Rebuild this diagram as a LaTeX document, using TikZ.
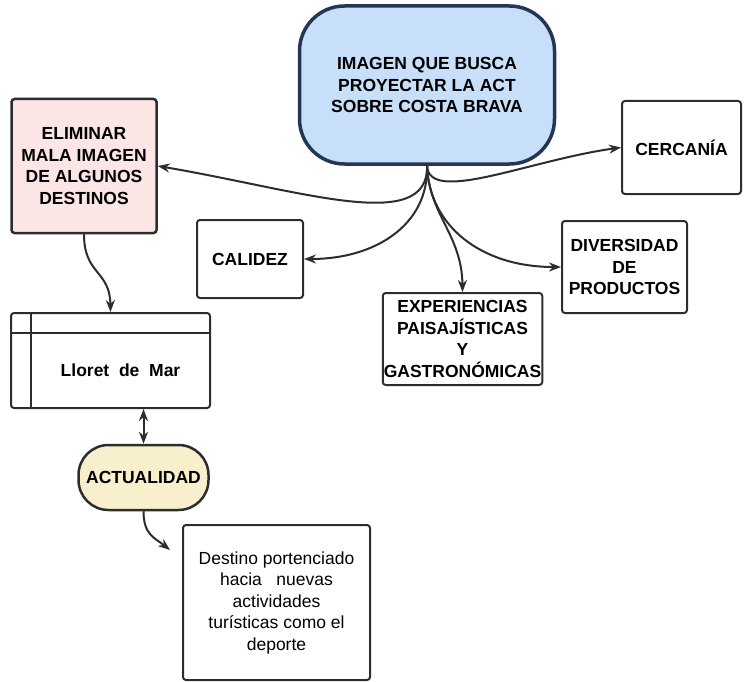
\documentclass[tikz,border=0pt]{standalone}
\usepackage{fontspec}
\setmainfont{Liberation Sans}
\usetikzlibrary{arrows.meta}
\definecolor{imgblue}{RGB}{200,223,250}
\definecolor{imgnavy}{RGB}{35,55,85}
\definecolor{imgpink}{RGB}{252,229,229}
\definecolor{imgcream}{RGB}{248,240,204}
\definecolor{edgegray}{RGB}{45,45,45}

\begin{document}
\begin{tikzpicture}[x=1pt,y=-1pt,>={Stealth[length=12pt,width=9pt]}]
\tikzstyle plainbox=[draw=edgegray, line width=2pt, rounded corners=3pt, align=center, inner sep=1pt, font=\fontsize{17.5}{21.5}\selectfont\bfseries]
\tikzstyle titlebox=[style=plainbox, draw=imgnavy, line width=3.5pt, fill=imgblue, rounded corners=45pt]
\tikzstyle pinkbox=[style=plainbox, line width=2.5pt, fill=imgpink]
\tikzstyle pillbox=[style=plainbox, line width=2.5pt, fill=imgcream, rounded corners=30pt]
\tikzstyle link=[draw=edgegray, line width=2pt, ->]
\useasboundingbox (0,0) rectangle (744,682);
%\draw[step=50, gray, very thin] (0,0) grid (744,682);
\node[style=titlebox, minimum width=255pt, minimum height=158pt] (titulo) at (427,85) {IMAGEN QUE BUSCA\\PROYECTAR LA ACT\\SOBRE COSTA BRAVA};
\node[style=pinkbox, minimum width=145pt, minimum height=134pt] (eliminar) at (84,166) {ELIMINAR\\MALA IMAGEN\\DE ALGUNOS\\DESTINOS};
\node[style=plainbox, minimum width=106pt, minimum height=78pt] (calidez) at (250,259) {CALIDEZ};
\node[style=plainbox, minimum width=159pt, minimum height=92pt] (experiencias) at (462.5,339) {EXPERIENCIAS\\PAISAJÍSTICAS\\Y\\GASTRONÓMICAS};
\node[style=plainbox, minimum width=125pt, minimum height=92pt] (diversidad) at (624.5,267) {DIVERSIDAD\\DE\\PRODUCTOS};
\node[style=plainbox, minimum width=119pt, minimum height=93pt] (cercania) at (681.5,147.5) {CERCANÍA};
\node[style=plainbox, minimum width=199pt, minimum height=95pt] (lloret) at (110.5,360.5) {};
\draw[draw=edgegray, line width=2pt] (31,313) -- (31,408);
\draw[draw=edgegray, line width=2pt] (11,333) -- (210,333);
\node[font=\fontsize{17.5}{21.5}\selectfont\bfseries] (lloretlabel) at (120.5,370.5) {Lloret\ \ de\ \ Mar};
\node[style=pillbox, minimum width=130pt, minimum height=65pt] (actualidad) at (143.5,477.5) {ACTUALIDAD};
\node[style=plainbox, font=\fontsize{17.5}{21.5}\selectfont, minimum width=187pt, minimum height=155pt] (destino) at (276.5,602.5) {Destino portenciado\\hacia\ \ \ nuevas\\actividades\\turísticas como el\\deporte};
%\draw (titulo.south) -- (eliminar.east);
\draw[style=link] (titulo.south) .. controls (429,235) and (300,190) .. (eliminar.east);
\draw[style=link] (titulo.south) .. controls (429,225) and (375,259) .. (calidez.east);
\draw[style=link] (titulo.south) .. controls (429,215) and (462,235) .. (experiencias.north);
\draw[style=link] (titulo.south) .. controls (429,225) and (480,267) .. (diversidad.west);
\draw[style=link] (titulo.south) .. controls (429,205) and (530,160) .. (cercania.west);
\draw[style=link] (eliminar.south) .. controls (84,275) and (110,270) .. (lloret.north);
\draw[style=link, <->] (actualidad.north |- lloret.south) -- (actualidad.north);
\coordinate (destinoflecha) at (170,550);
\draw[style=link] (actualidad.south) .. controls (143.5,535) and (155,538) .. (destinoflecha);
\end{tikzpicture}
\end{document}
